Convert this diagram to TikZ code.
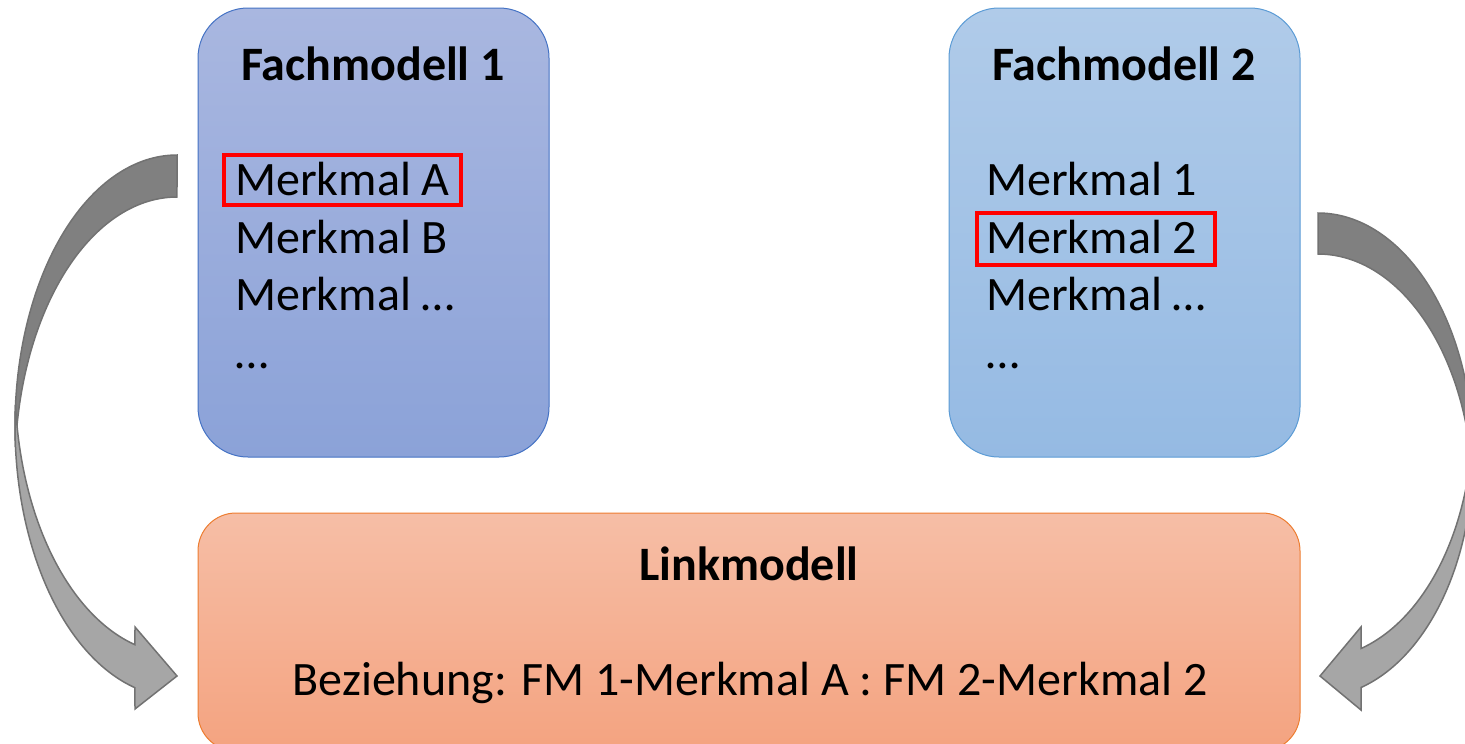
\documentclass[tikz,border=0pt]{standalone}
\usepackage{fontspec}
\setmainfont{Carlito}
\usetikzlibrary{positioning}
\definecolor{fmonetop}{HTML}{A9B7E0}
\definecolor{fmonebot}{HTML}{8BA2D8}
\definecolor{fmoneline}{HTML}{4472C4}
\definecolor{fmtwotop}{HTML}{B0CBE9}
\definecolor{fmtwobot}{HTML}{95BAE3}
\definecolor{fmtwoline}{HTML}{5B9BD5}
\definecolor{linktop}{HTML}{F6BEA6}
\definecolor{linkbot}{HTML}{F4A380}
\definecolor{linkline}{HTML}{ED7D31}
\definecolor{bandback}{HTML}{808080}
\definecolor{bandfront}{HTML}{A6A6A6}
\definecolor{bandline}{HTML}{727272}

\begin{document}
\begin{tikzpicture}[x=1pt,y=-1pt,
    every node/.style={black,font=\fontsize{48}{58}\selectfont},
    fmbox/.style={rounded corners=50pt,minimum width=351pt,minimum height=449pt,line width=1pt},
    item/.style={anchor=base west,inner sep=0pt},
    title/.style={anchor=base,inner sep=0pt,font=\fontsize{48}{58}\selectfont\bfseries},
    redframe/.style={draw=red,line width=4.5pt,inner sep=0pt},
    backband/.style={fill=bandback,draw=bandline,line width=1.5pt},
    frontband/.style={fill=bandfront,draw=bandline,line width=1.5pt}]
    \useasboundingbox (0,0) rectangle (1465,744);
    \clip (0,0) rectangle (1465,744);
    % the three models
    \node[fmbox,draw=fmoneline,top color=fmonetop,bottom color=fmonebot] (fm1) at (373.5,232.5) {};
    \node[fmbox,draw=fmtwoline,top color=fmtwotop,bottom color=fmtwobot] (fm2) at (1124.5,232.5) {};
    \node[rounded corners=38pt,minimum width=1102pt,minimum height=238pt,line width=1pt,
          draw=linkline,top color=linktop,bottom color=linkbot] (link) at (749,632) {};
    % texts
    \node[title] (fm1title) at (373,80) {Fachmodell 1};
    \node[item] (fm1a) at (235,195) {Merkmal A};
    \node[item] (fm1b) at (235,253) {Merkmal B};
    \node[item] (fm1c) at (235,310) {Merkmal …};
    \node[item] (fm1d) at (235,368) {…};
    \node[title] (fm2title) at (1124,80) {Fachmodell 2};
    \node[item] (fm2a) at (986,195) {Merkmal 1};
    \node[item] (fm2b) at (986,253) {Merkmal 2};
    \node[item] (fm2c) at (986,310) {Merkmal …};
    \node[item] (fm2d) at (986,368) {…};
    \node[title] (linktitle) at (749,580) {Linkmodell};
    \node[anchor=base,inner sep=0pt] (relation) at (750,695) {Beziehung: FM 1-Merkmal A : FM 2-Merkmal 2};
    % selected features
    \node[redframe,minimum width=237pt,minimum height=50pt] (selA) at (342.5,180) {};
    \node[redframe,minimum width=238pt,minimum height=52pt] (sel2) at (1096,239) {};
    % curved arrows, left
    \filldraw[backband] plot[domain=0:94.44,variable=\t,samples=80] ({177-162*sin(\t)},{426-271*cos(\t)})
      -- plot[domain=85.56:0,variable=\t,samples=80] ({177-162*sin(\t)},{468-271*cos(\t)}) -- cycle;
    \filldraw[frontband] plot[domain=85.45:164.97,variable=\t,samples=80] ({177-162*sin(\t)},{426-271*cos(\t)})
      -- (135,709) -- (177,676) -- (135,627)
      -- plot[domain=164.97:94.55,variable=\t,samples=80] ({177-162*sin(\t)},{383-271*cos(\t)}) -- cycle;
    % curved arrows, right
    \filldraw[backband] plot[domain=0:94.86,variable=\t,samples=80] ({1318+155*sin(\t)},{455-242*cos(\t)})
      -- plot[domain=85.14:0,variable=\t,samples=80] ({1318+155*sin(\t)},{496-242*cos(\t)}) -- cycle;
    \filldraw[frontband] plot[domain=85.38:163.89,variable=\t,samples=80] ({1318+155*sin(\t)},{455-242*cos(\t)})
      -- (1361,710) -- (1320,676) -- (1361,627)
      -- plot[domain=163.89:94.62,variable=\t,samples=80] ({1318+155*sin(\t)},{416-242*cos(\t)}) -- cycle;
\end{tikzpicture}
\end{document}
